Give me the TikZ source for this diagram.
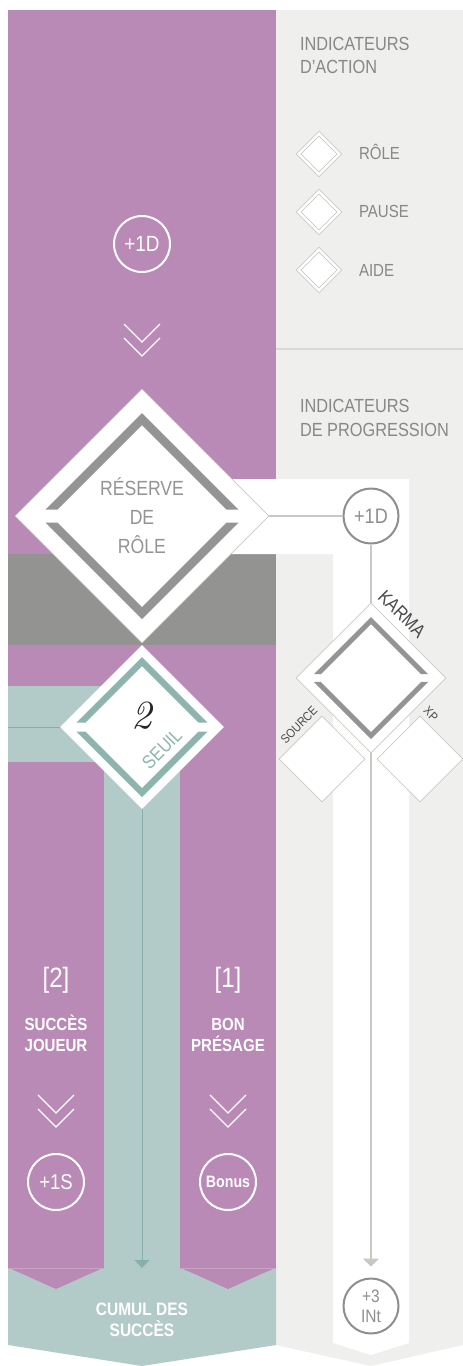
\documentclass[tikz,border=0pt]{standalone}
\usepackage{fontspec}
\setmainfont{Liberation Sans}[FakeStretch=0.86]
\newfontfamily\handfont{lmroman10-italic.otf}
\usetikzlibrary{shapes.geometric,arrows.meta}
\definecolor{purp}{HTML}{B98AB5}
\definecolor{tealbg}{HTML}{B3CBC8}
\definecolor{tealln}{HTML}{86B0A9}
\definecolor{tealfr}{HTML}{8DB5AE}
\definecolor{dgray}{HTML}{939491}
\definecolor{lpanel}{HTML}{EFEFED}
\definecolor{sepln}{HTML}{D8D8D5}
\definecolor{thinln}{HTML}{C9C9C4}
\definecolor{fgray}{HTML}{949494}
\definecolor{cgray}{HTML}{8E8E8E}
\definecolor{txtgray}{HTML}{888888}
\definecolor{darktxt}{HTML}{4A4A4A}
\definecolor{legln}{HTML}{C2C2BE}
\definecolor{purpln}{HTML}{C9A4C5}
\newcommand\fsz[1]{\fontsize{#1}{#1}\selectfont}
\newcommand\dframe[6]{%
  \begin{scope}
    \clip ({#1-#3-2},{#2-#3-2}) rectangle ({#1+#3+2},{#2-#5})
          ({#1-#3-2},{#2+#5}) rectangle ({#1+#3+2},{#2+#3+2});
    \fill[#6,even odd rule] (#1,{#2-#3}) -- ({#1+#3},#2) -- (#1,{#2+#3}) -- ({#1-#3},#2) -- cycle
      (#1,{#2-#3+#4}) -- ({#1+#3-#4},#2) -- (#1,{#2+#3-#4}) -- ({#1-#3+#4},#2) -- cycle;
  \end{scope}}
\newcommand\chevr[2]{%
  \draw[chev] ({#1-18},#2) -- (#1,{#2+18}) -- ({#1+18},#2);
  \draw[chev] ({#1-18},{#2+14}) -- (#1,{#2+32}) -- ({#1+18},{#2+14});}
\tikzset{
  lbl/.style={inner sep=0pt, outer sep=0pt},
  wdiam/.style={diamond, aspect=1, fill=white, draw=thinln, line width=0.8pt, inner sep=0pt},
  legd/.style={diamond, aspect=1, inner sep=0pt, minimum size=41pt, fill=white, draw=legln,
               line width=0.6pt, double=white, double distance=2.6pt},
  wcirc/.style={circle, draw=white, line width=2pt, inner sep=0pt, minimum size=56pt, text=white},
  gcirc/.style={circle, draw=cgray, line width=2pt, fill=white, inner sep=0pt, minimum size=55pt, text=cgray},
  chev/.style={white, line width=1.3pt},
  legtxt/.style={lbl, anchor=base west, text=txtgray},
}
\begin{document}
\begin{tikzpicture}[x=1pt,y=-1pt]
\useasboundingbox (0,0) rectangle (463,1366);
\fill[white] (0,0) rectangle (463,1366);
% right light panel
\fill[lpanel] (276,10) -- (463,10) -- (463,1345) -- (371,1366) -- (276,1345) -- cycle;
\draw[sepln, line width=1.5pt] (276,349) -- (463,349);
% purple panel
\fill[purp] (8,10) rectangle (276,1268);
% dark gray band
\fill[dgray] (8,554) rectangle (276,645);
% white L band
\fill[white] (150,479) -- (409,479) -- (409,1343) -- (371,1355) -- (333,1343) -- (333,554) -- (150,554) -- cycle;
% teal bands
\fill[tealbg] (8,686) rectangle (120,762);
\draw[tealln, line width=1pt] (8,727) -- (70,727);
\fill[tealbg] (104,740) rectangle (180,1268);
\fill[tealbg] (8,1268) -- (276,1268) -- (276,1345) -- (142,1366) -- (8,1345) -- cycle;
\fill[purp] (8,1267.5) -- (104,1267.5) -- (56,1289) -- cycle;
\fill[purp] (180,1267.5) -- (276,1267.5) -- (228,1289) -- cycle;
\draw[purpln, line width=0.8pt] (8,1268) -- (104,1268) (180,1268) -- (276,1268);

% big diamond: reserve de role
\node[wdiam, minimum size=254pt] (res) at (142,516) {};
\dframe{142}{516}{103}{12}{6.5}{fgray}
\node[lbl, anchor=base, text=fgray, font=\fsz{20.5}] (res1) at (142,495) {RÉSERVE};
\node[lbl, anchor=base, text=fgray, font=\fsz{20.5}] (res2) at (142,524) {DE};
\node[lbl, anchor=base, text=fgray, font=\fsz{20.5}] (res3) at (142,553) {RÔLE};

% seuil diamond
\node[diamond, aspect=1, fill=white, inner sep=0pt, minimum size=164pt] (seuil) at (142,727) {};
\dframe{142}{727}{70}{9}{4.5}{tealfr}
\node[lbl, text=black!85, font=\handfont\fsz{40}] (two) at (142,716) {2};
\node[lbl, text=tealfr, font=\fsz{19}, rotate=45] (seuiltxt) at (162,749) {SEUIL};

% right column
\node[gcirc, font=\fsz{21}] (c1) at (371,516) {+1D};
\node[wdiam, minimum size=150pt] (karma) at (371,678) {};
\dframe{371}{678}{61}{7}{3.8}{fgray}
\node[lbl, text=darktxt, font=\fsz{19}, rotate=-45] (karmatxt) at (402,614) {KARMA};
\node[wdiam, minimum size=86pt] (src) at (322,759) {};
\node[wdiam, minimum size=86pt] (xp) at (420,759) {};
\node[lbl, text=darktxt, font=\fsz{12.5}, rotate=45] (srctxt) at (299,725) {SOURCE};
\node[lbl, text=darktxt, font=\fsz{12.5}, rotate=-45] (xptxt) at (431,714) {XP};
\node[gcirc, font=\fontsize{18}{20}\selectfont, align=center] (int) at (371,1306) {+3\\INt};
\draw[thinln, line width=1.2pt] (res.east) -- (c1.west);
\draw[thinln, line width=1.2pt] (c1.south) -- (karma.north);
\draw[thinln, line width=1.2pt, -{Triangle[width=16pt,length=8pt]}, shorten >=11pt] (karma.south) -- (int.north);

% teal arrow
\coordinate (cumtop) at (142,1268);
\draw[tealln, line width=1pt, -{Triangle[width=15pt,length=8pt]}] (seuil.south) -- (cumtop);
\node[lbl, anchor=base, text=white, font=\bfseries\fsz{18}] (cum1) at (142,1315) {CUMUL DES};
\node[lbl, anchor=base, text=white, font=\bfseries\fsz{18}] (cum2) at (142,1336) {SUCCÈS};

% top +1D
\node[wcirc, font=\fsz{22}] (d1) at (142,244) {+1D};
\chevr{142}{324}

% bottom columns
\node[lbl, text=white, font=\fsz{28}] (b2) at (56,980) {[2]};
\node[lbl, anchor=base, text=white, font=\bfseries\fsz{17.5}] (sj1) at (56,1030) {SUCCÈS};
\node[lbl, anchor=base, text=white, font=\bfseries\fsz{17.5}] (sj2) at (56,1051) {JOUEUR};
\chevr{56}{1095}
\node[wcirc, font=\fsz{21.5}] (s1) at (56,1182) {+1S};

\node[lbl, text=white, font=\fsz{28}] (b1) at (228,980) {[1]};
\node[lbl, anchor=base, text=white, font=\bfseries\fsz{17.5}] (bp1) at (228,1030) {BON};
\node[lbl, anchor=base, text=white, font=\bfseries\fsz{17.5}] (bp2) at (228,1051) {PRÉSAGE};
\chevr{228}{1095}
\node[wcirc, font=\bfseries\fsz{16.5}] (bonus) at (228,1182) {Bonus};

% legend
\node[legtxt, font=\fsz{19}] (ia1) at (300,50) {INDICATEURS};
\node[legtxt, font=\fsz{19}] (ia2) at (300,73) {D’ACTION};
\node[legd] (lrole) at (319,154) {};
\node[legd] (lpause) at (319,212) {};
\node[legd] (laide) at (319,270) {};
\node[legtxt, font=\fsz{17.5}] (trole) at (359,159) {RÔLE};
\node[legtxt, font=\fsz{17.5}] (tpause) at (359,217) {PAUSE};
\node[legtxt, font=\fsz{17.5}] (taide) at (359,276) {AIDE};
\node[legtxt, font=\fsz{19}] (ip1) at (300,412) {INDICATEURS};
\node[legtxt, font=\fsz{19}] (ip2) at (300,436) {DE PROGRESSION};
\end{tikzpicture}
\end{document}
